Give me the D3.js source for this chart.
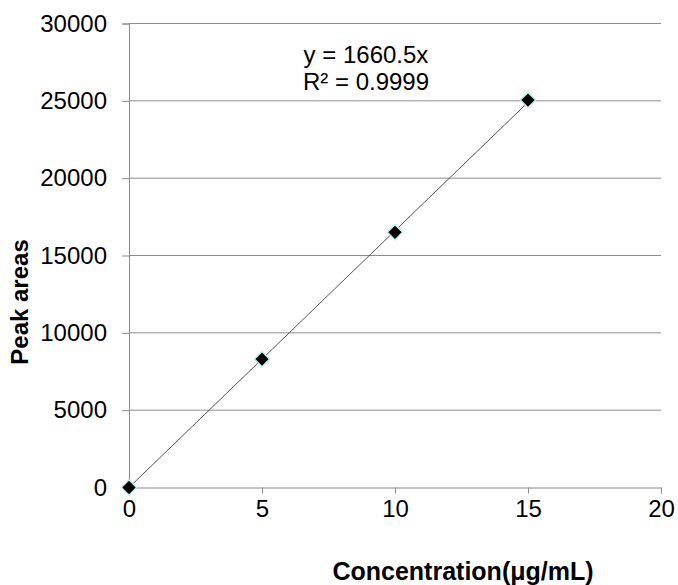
<!DOCTYPE html><html><head><meta charset="utf-8"><script src="https://cdn.jsdelivr.net/npm/d3@7"></script>
<style>body{margin:0;background:#fff}text{font-family:"Liberation Sans",Arial,sans-serif}</style></head><body><svg id="c" width="678" height="585"></svg><script>
const xTicks=[0,5,10,15,20];
const yTicks=[0,5000,10000,15000,20000,25000,30000];
const concentration=[0,5,10,15];
const peakAreas=[0,8300,16500,25050];
const slope=1660.5;
const eqText="y = 1660.5x", r2Text="R² = 0.9999";
const FS=24;
const svg=d3.select("#c");
const x=d3.scaleLinear().domain([0,20]).range([129,661]);
const y=d3.scaleLinear().domain([0,30000]).range([487.5,23.5]);
const g=svg.append("g");
g.selectAll("line.grid").data(yTicks.filter(d=>d>0)).join("line").attr("x1",x(0)).attr("x2",x(20)).attr("y1",d=>y(d)).attr("y2",d=>y(d)).attr("stroke","#8c8c8c").attr("stroke-width",1);
const ya=svg.append("g").attr("transform",`translate(${x(0)},0)`).call(d3.axisLeft(y).tickValues(yTicks).tickSize(7).tickPadding(15).tickFormat(d3.format("d")));
ya.attr("font-size",FS).attr("font-family","Liberation Sans, Arial, sans-serif");
ya.select(".domain").attr("stroke","#8c8c8c");ya.selectAll(".tick line").attr("stroke","#8c8c8c");
ya.selectAll("text").attr("fill","#000");
const xa=svg.append("g").attr("transform",`translate(0,${y(0)})`).call(d3.axisBottom(x).tickValues(xTicks).tickSize(6).tickPadding(6));
xa.attr("font-size",FS).attr("font-family","Liberation Sans, Arial, sans-serif");
xa.select(".domain").attr("stroke","#8c8c8c");xa.selectAll(".tick line").attr("stroke","#8c8c8c");
xa.selectAll("text").attr("fill","#000");
svg.append("line").attr("x1",x(0)).attr("y1",y(0)).attr("x2",x(15)).attr("y2",y(slope*15)).attr("stroke","#555").attr("stroke-width",1);
const sym=d3.symbol().type(d3.symbolDiamond2);
svg.selectAll("path.pt").data(concentration).join("path").attr("transform",(d,i)=>`translate(${x(d)},${y(peakAreas[i])})`)
 .attr("d",sym.size(150)()).attr("fill","#000").attr("stroke","#bfeff0").attr("stroke-width",1.5);
svg.append("text").attr("x",366).attr("y",63).attr("text-anchor","middle").attr("font-size",FS).text(eqText);
svg.append("text").attr("x",366).attr("y",90).attr("text-anchor","middle").attr("font-size",FS).text(r2Text);
svg.append("text").attr("x",463).attr("y",580).attr("text-anchor","middle").attr("font-size",25).attr("font-weight","bold").text("Concentration(μg/mL)");
svg.append("text").attr("transform","translate(28,302) rotate(-90)").attr("text-anchor","middle").attr("font-size",FS).attr("font-weight","bold").text("Peak areas");
</script></body></html>
